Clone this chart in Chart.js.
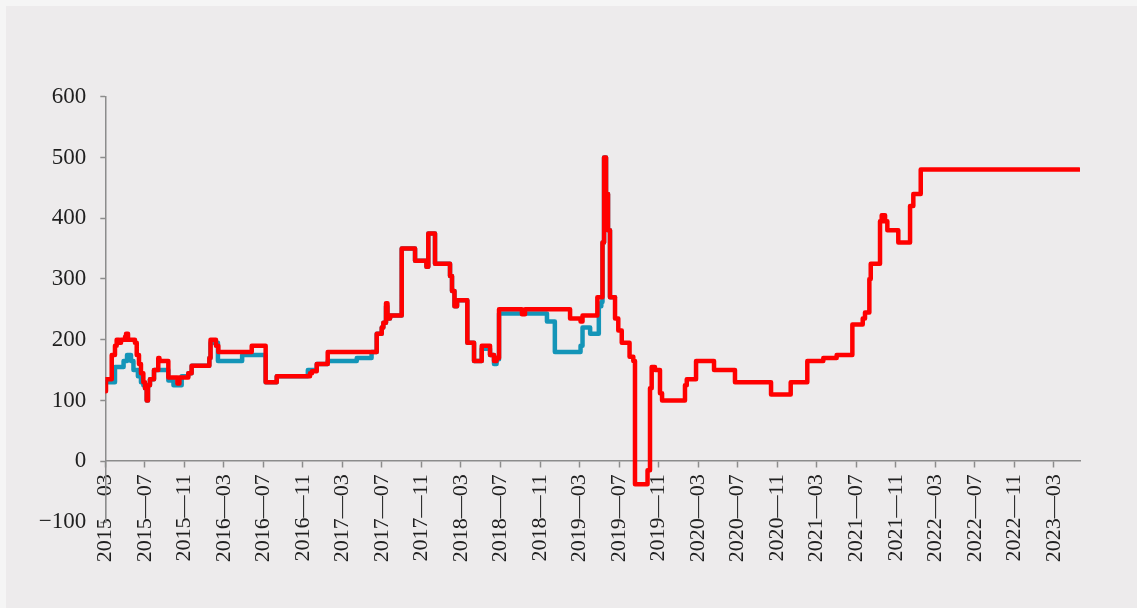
<!DOCTYPE html>
<html><head><meta charset="utf-8">
<script src="https://cdn.jsdelivr.net/npm/chart.js@4.4.1/dist/chart.umd.min.js"></script>
<style>
html,body{margin:0;padding:0;background:#f5f5f5;width:1137px;height:608px;overflow:hidden}
#wrap{position:absolute;left:6px;top:6px;width:1131px;height:602px;background:#edebec}
canvas{display:block}
</style></head><body><div id="wrap"><canvas id="c" width="1131" height="602"></canvas></div>
<script>
// x values: months since 2015-03 (fractional); each value holds until the next point
const redMonths = [0,0.07,0.65,0.98,1.15,1.39,1.59,2.0,2.1,2.3,3.0,3.18,3.41,3.61,3.85,4.02,4.19,4.32,4.52,4.93,5.36,5.48,6.38,7.3,7.5,8.4,8.74,10.53,10.65,11.2,11.44,14.82,16.23,17.35,20.72,20.92,21.4,22.51,27.47,27.98,28.14,28.41,28.56,28.82,30.0,31.35,32.5,32.69,33.37,34.89,35.09,35.34,35.6,36.64,37.32,38.1,38.94,39.34,39.6,39.85,42.17,42.48,47.04,48.1,48.3,49.8,50.32,50.48,50.68,50.88,51.08,51.59,51.92,52.27,53.06,53.44,53.61,54.88,55.13,55.3,55.63,56.14,56.35,58.67,58.85,59.79,61.61,63.73,67.38,69.37,71.05,72.67,74.02,75.61,76.66,76.89,77.33,77.47,78.41,78.58,78.92,79.15,80.26,81.45,81.78,82.53,98.55];
const redValues = [115,135,175,190,200,195,200,205,210,200,195,175,160,145,130,120,100,125,135,150,170,165,138,128,138,145,157,170,200,190,180,190,130,140,145,148,160,180,210,220,228,260,235,240,350,330,320,375,325,305,280,255,265,195,165,190,175,165,170,250,242,250,235,230,240,270,360,500,440,380,270,235,215,195,172,165,-38,-15,120,155,150,112,100,125,135,165,150,130,110,130,165,170,175,225,235,245,300,325,395,405,395,380,360,420,440,480,480];
const blueMonths = [0,0.98,1.85,2.2,2.6,2.85,3.3,3.61,3.85,4.02,4.19,4.32,4.52,4.93,6.38,6.9,7.73,8.4,8.74,10.53,10.65,11.4,13.85,16.23,17.35,20.5,21.4,22.51,25.45,26.95,27.47,27.98,28.14,28.41,28.56,28.82,30.0,31.35,32.5,32.69,33.37,34.89,35.09,35.34,35.6,36.64,37.32,38.1,38.94,39.34,39.6,39.85,44.7,45.5,48.1,48.3,49.07,49.95,50.2,50.32,50.48,50.68,50.88,51.08,51.59];
const blueValues = [130,155,165,175,165,150,140,130,125,120,100,125,135,150,133,125,140,145,157,170,195,165,175,130,140,150,160,165,170,180,210,220,228,255,235,240,350,330,320,375,325,305,280,255,265,195,165,185,175,160,168,243,230,180,190,220,210,255,262,360,500,440,380,270,270];
const yTicks = [-100,0,100,200,300,400,500,600];
const xTickStep = 4;

const toPts = (ms, vs) => ms.map((m, i) => ({x: m, y: vs[i]}));
const pad = n => (n < 10 ? '0' : '') + n;
const monthLabel = m => {
  const t = 2 + Math.round(m);
  return (2015 + Math.floor(t / 12)) + '\u2014' + pad(t % 12 + 1);
};
const axisCol = '#8c8c8c';
const txtCol = '#1f1f1f';

new Chart(document.getElementById('c'), {
  type: 'line',
  data: {
    datasets: [
      {label: 'red', data: toPts(redMonths, redValues), borderColor: '#ff0000', borderWidth: 4.5, stepped: 'before', pointRadius: 0, fill: false, borderCapStyle: 'round', borderJoinStyle: 'round'},
      {label: 'blue', data: toPts(blueMonths, blueValues), borderColor: '#1495b8', borderWidth: 4.5, stepped: 'before', pointRadius: 0, fill: false, borderCapStyle: 'round', borderJoinStyle: 'round'}
    ]
  },
  options: {
    responsive: false,
    animation: false,
    devicePixelRatio: 1,
    layout: {padding: {left: 0, top: 90.7, right: 57, bottom: 86}},
    plugins: {legend: {display: false}, tooltip: {enabled: false}},
    scales: {
      x: {
        type: 'linear',
        position: {y: 0},
        min: 0, max: 98.65,
        grid: {drawOnChartArea: false, drawTicks: true, tickLength: 6, tickColor: axisCol, tickWidth: 1.5},
        border: {display: true, color: axisCol, width: 1.5},
        ticks: {
          stepSize: xTickStep, includeBounds: false, autoSkip: false,
          minRotation: 90, maxRotation: 90, padding: 7,
          color: txtCol, font: {family: 'Liberation Serif', size: 22},
          callback: v => monthLabel(v)
        }
      },
      y: {
        min: yTicks[0], max: yTicks[yTicks.length - 1],
        afterFit: s => { s.width = 99.3; },
        afterBuildTicks: s => { s.ticks = yTicks.map(v => ({value: v})); },
        grid: {drawOnChartArea: false, drawTicks: true, tickLength: 5, tickColor: axisCol, tickWidth: 1.5},
        border: {display: true, color: axisCol, width: 1.5},
        ticks: {
          padding: 14, color: txtCol, font: {family: 'Liberation Serif', size: 23},
          callback: v => v < 0 ? '\u2212' + Math.abs(v) : String(v)
        }
      }
    }
  }
});
</script>
</body></html>
